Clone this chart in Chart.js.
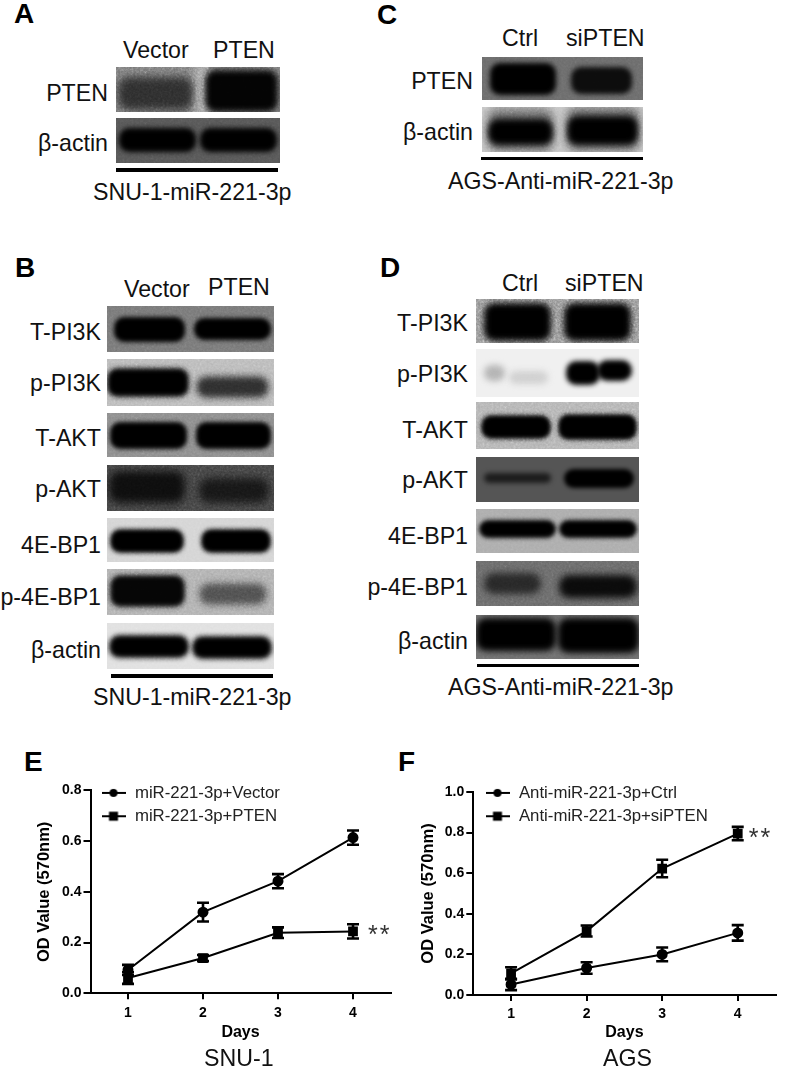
<!DOCTYPE html>
<html>
<head>
<meta charset="utf-8">
<title>PTEN blots and OD curves</title>
<script src="https://cdn.jsdelivr.net/npm/chart.js@4"></script>
<style>
    html, body { margin: 0; padding: 0; background: #fff; }
    #page { position: relative; width: 785px; height: 1069px; overflow: hidden; font-family: "Liberation Sans", Arial, sans-serif; color: #111; }
    .txt { position: absolute; white-space: nowrap; font-size: 23.2px; line-height: 26px; transform: translateY(-50%); }
    .panel { position: absolute; font-weight: bold; font-size: 28px; line-height: 32px; color: #000; transform: translateY(-50%); }
    .blot { position: absolute; overflow: hidden; }
    .band { position: absolute; border-radius: 10px; }
    .grain { position: absolute; left: 0; top: 0; width: 100%; height: 100%; mix-blend-mode: overlay;
        background-image: url("data:image/svg+xml,%3Csvg xmlns='http://www.w3.org/2000/svg' width='300' height='100'%3E%3Cfilter id='n'%3E%3CfeTurbulence type='fractalNoise' baseFrequency='0.45' numOctaves='2' seed='4'/%3E%3CfeColorMatrix type='saturate' values='0'/%3E%3C/filter%3E%3Crect width='300' height='100' filter='url(%23n)'/%3E%3C/svg%3E"); }
    .bar { position: absolute; background: #000; }
    canvas { position: absolute; }
</style>
</head>
<body>
<div id="page">
    <canvas id="graficoE" width="398" height="289" style="left:0;top:780px;width:398px;height:289px"></canvas>
    <canvas id="graficoF" width="383" height="289" style="left:400px;top:780px;width:383px;height:289px"></canvas>
</div>

<script>
// ── Chart data ──
const days = ['1', '2', '3', '4'];

const labelsE = ['miR-221-3p+Vector', 'miR-221-3p+PTEN'];
const vectorE = [0.092, 0.32, 0.442, 0.614];
const vectorErrE = [0.02, 0.037, 0.028, 0.028];
const ptenE = [0.06, 0.139, 0.239, 0.244];
const ptenErrE = [0.023, 0.012, 0.021, 0.028];
const ticksE = [0, 0.2, 0.4, 0.6, 0.8];

const labelsF = ['Anti-miR-221-3p+Ctrl', 'Anti-miR-221-3p+siPTEN'];
const ctrlF = [0.052, 0.133, 0.2, 0.306];
const ctrlErrF = [0.028, 0.028, 0.034, 0.038];
const siptenF = [0.107, 0.315, 0.623, 0.795];
const siptenErrF = [0.03, 0.027, 0.043, 0.033];
const ticksF = [0, 0.2, 0.4, 0.6, 0.8, 1.0];

// ── Blot panels: label, top, bottom, background, grain, bands ──
// a band is [left, right, top, bottom, colour, blur], as fractions of the panel
const blotA = [
    ['PTEN', 67, 112, '#757575', 0.8, [[0.48, 0.56, -0.1, 1.1, '#a8a8a8', 4], [0.01, 0.47, 0.22, 0.96, '#2a2a2a', 4], [0.54, 0.99, 0.06, 1.0, '#030303', 3]]],
    ['β-actin', 118, 163, '#565656', 0.3, [[0.02, 0.49, 0.22, 0.76, '#000', 2.5], [0.51, 0.98, 0.22, 0.76, '#000', 2.5]]]
];
const blotC = [
    ['PTEN', 57, 100, '#6c6c6c', 0.2, [[0.05, 0.46, 0.14, 0.88, '#000', 2.5], [0.55, 0.93, 0.24, 0.86, '#0c0c0c', 2.5]]],
    ['β-actin', 107, 152, '#c8c8c8', 0.4, [[0.03, 0.45, 0.02, 1.0, '#6a6a6a', 5], [0.52, 0.98, -0.02, 1.0, '#6a6a6a', 5], [0.04, 0.44, 0.26, 0.84, '#000', 3], [0.53, 0.97, 0.2, 0.84, '#000', 3]]]
];
const blotB = [
    ['T-PI3K', 306, 352, '#777', 0.3, [[0.04, 0.47, 0.24, 0.78, '#000', 2], [0.52, 0.98, 0.27, 0.75, '#000', 2]]],
    ['p-PI3K', 359, 406, '#b8b8b8', 0.5, [[0, 0.49, 0.2, 0.8, '#000', 2.5], [0.53, 0.97, 0.36, 0.82, '#2c2c2c', 3.5]]],
    ['T-AKT', 413, 457, '#8c8c8c', 0.3, [[0.02, 0.48, 0.2, 0.82, '#000', 2], [0.53, 0.98, 0.2, 0.82, '#000', 2]]],
    ['p-AKT', 465, 511, '#3e3e3e', 1, [[0.01, 0.47, 0.14, 0.82, '#0c0c0c', 4], [0.55, 0.97, 0.28, 0.82, '#141414', 4]]],
    ['4E-BP1', 518, 562, '#d4d4d4', 0.3, [[0.02, 0.46, 0.26, 0.8, '#000', 2], [0.56, 0.98, 0.26, 0.8, '#000', 2]]],
    ['p-4E-BP1', 569, 615, '#aeaeae', 0.5, [[0.02, 0.47, 0.14, 0.82, '#050505', 2.5], [0.55, 0.96, 0.3, 0.78, '#4c4c4c', 3.5]]],
    ['β-actin', 623, 669, '#e0e0e0', 0.3, [[0.01, 0.49, 0.26, 0.76, '#000', 2.5], [0.51, 0.99, 0.28, 0.78, '#000', 2.5]]]
];
const blotD = [
    ['T-PI3K', 299, 343, '#8a8a8a', 1, [[0.05, 0.46, 0.08, 0.96, '#000', 3], [0.54, 0.95, 0.08, 0.96, '#000', 3]]],
    ['p-PI3K', 349, 397, '#f0f0f0', 0.1, [[0.05, 0.18, 0.33, 0.66, '#b4b4b4', 3], [0.2, 0.44, 0.45, 0.72, '#d0d0d0', 3], [0.55, 0.76, 0.24, 0.76, '#000', 2.5], [0.74, 0.96, 0.22, 0.66, '#000', 2.5]]],
    ['T-AKT', 402, 449, '#b0b0b0', 0.6, [[0.03, 0.46, 0.28, 0.78, '#000', 2], [0.5, 0.99, 0.26, 0.8, '#000', 2]]],
    ['p-AKT', 457, 502, '#555', 0, [[0.05, 0.46, 0.36, 0.58, '#1c1c1c', 2.5], [0.54, 0.97, 0.26, 0.7, '#000', 2]]],
    ['4E-BP1', 509, 553, '#adadad', 0.2, [[0.02, 0.49, 0.25, 0.66, '#000', 2], [0.51, 0.99, 0.25, 0.66, '#000', 2]]],
    ['p-4E-BP1', 561, 606, '#686868', 0.4, [[0.05, 0.4, 0.26, 0.74, '#262626', 3.5], [0.51, 0.99, 0.3, 0.82, '#0a0a0a', 3.5]]],
    ['β-actin', 615, 659, '#707070', 0.2, [[0, 0.49, 0.06, 0.82, '#000', 3], [0.5, 1.0, 0.06, 0.86, '#000', 3]]]
];

const page = document.getElementById('page');

function texto(str, x, y, side) {
    const el = document.createElement('div');
    el.className = 'txt';
    el.textContent = str;
    el.style.top = y + 'px';
    if (side === 'right') el.style.right = (785 - x) + 'px';
    else el.style.left = x + 'px';
    page.appendChild(el);
}

function letra(str, x, y) {
    const el = document.createElement('div');
    el.className = 'panel';
    el.textContent = str;
    el.style.left = x + 'px';
    el.style.top = y + 'px';
    page.appendChild(el);
}

function barra(x0, x1, y0, y1) {
    const el = document.createElement('div');
    el.className = 'bar';
    el.style.cssText = `left:${x0}px;top:${y0}px;width:${x1 - x0}px;height:${y1 - y0}px`;
    page.appendChild(el);
}

function blots(list, x0, x1, labelX, labelY) {
    list.forEach((row, i) => {
        const [label, top, bottom, bg, grain, bands] = row;
        const box = document.createElement('div');
        box.className = 'blot';
        box.style.cssText = `left:${x0}px;top:${top}px;width:${x1 - x0}px;height:${bottom - top}px;background:${bg}`;
        bands.forEach(b => {
            const band = document.createElement('div');
            band.className = 'band';
            band.style.left = (b[0] * 100) + '%';
            band.style.width = ((b[1] - b[0]) * 100) + '%';
            band.style.top = (b[2] * 100) + '%';
            band.style.height = ((b[3] - b[2]) * 100) + '%';
            band.style.background = b[4];
            band.style.filter = `blur(${b[5]}px)`;
            box.appendChild(band);
        });
        const noise = document.createElement('div');
        noise.className = 'grain';
        noise.style.opacity = grain;
        box.appendChild(noise);
        page.appendChild(box);
        texto(label, labelX, labelY[i], 'right');
    });
}

// ── 1. Panels A and C ──
letra('A', 14, 14);
texto('Vector', 123, 50);
texto('PTEN', 213, 50);
blots(blotA, 116, 280, 108, [93, 143]);
barra(116, 278, 168, 172);
texto('SNU-1-miR-221-3p', 93, 192);

letra('C', 377, 15);
texto('Ctrl', 502, 38);
texto('siPTEN', 566, 38);
blots(blotC, 482, 643, 473, [81, 132]);
barra(481, 643, 157, 160);
texto('AGS-Anti-miR-221-3p', 448, 181);

// ── 2. Panels B and D ──
letra('B', 15, 268);
texto('Vector', 124, 289);
texto('PTEN', 208, 287);
blots(blotB, 107, 274, 101, [332, 383, 438, 489, 545, 597, 650]);
barra(111, 273, 674, 678);
texto('SNU-1-miR-221-3p', 93, 697);

letra('D', 380, 268);
texto('Ctrl', 502, 283);
texto('siPTEN', 565, 283);
blots(blotD, 476, 639, 468, [323, 374, 430, 480, 536, 587, 641]);
barra(477, 639, 664, 667);
texto('AGS-Anti-miR-221-3p', 448, 687);

letra('E', 24, 762);
letra('F', 398, 762);
texto('SNU-1', 204, 1058);
texto('AGS', 603, 1058);

// ── 3. Line charts E and F ──
function icono(style) {
    // legend key: short line with the marker in the middle
    const c = document.createElement('canvas');
    c.width = 24; c.height = 12;
    const ctx = c.getContext('2d');
    ctx.fillStyle = ctx.strokeStyle = '#000';
    ctx.lineWidth = 2;
    ctx.beginPath(); ctx.moveTo(0, 6); ctx.lineTo(24, 6); ctx.stroke();
    if (style === 'circle') { ctx.beginPath(); ctx.arc(12, 6, 4, 0, Math.PI * 2); ctx.fill(); }
    else ctx.fillRect(7.5, 1.5, 9, 9);
    return c;
}

// draws the error bars of every dataset through the y scale
const errorBars = {
    id: 'errorBars',
    afterDatasetsDraw(chart) {
        const { ctx, scales: { x, y } } = chart;
        ctx.save();
        ctx.strokeStyle = '#000';
        ctx.lineWidth = 2.6;
        chart.data.datasets.forEach(ds => {
            ds.data.forEach((v, i) => {
                const px = x.getPixelForValue(i);
                const top = y.getPixelForValue(v + ds.errors[i]);
                const bot = y.getPixelForValue(v - ds.errors[i]);
                ctx.beginPath();
                ctx.moveTo(px, top); ctx.lineTo(px, bot);
                ctx.moveTo(px - 6, top); ctx.lineTo(px + 6, top);
                ctx.moveTo(px - 6, bot); ctx.lineTo(px + 6, bot);
                ctx.stroke();
            });
        });
        ctx.restore();
    }
};

// significance stars next to the last point of one dataset
const stars = {
    id: 'stars',
    afterDraw(chart, args, opts) {
        const { ctx, scales: { x, y } } = chart;
        const ds = chart.data.datasets[opts.dataset];
        const last = ds.data.length - 1;
        ctx.save();
        ctx.fillStyle = '#333';
        ctx.font = '25px "Liberation Sans"';
        ctx.letterSpacing = '2px';
        ctx.textBaseline = 'middle';
        ctx.fillText('**', x.getPixelForValue(last) + opts.gap, y.getPixelForValue(ds.data[last]) + 5);
        ctx.restore();
    }
};

// moves the legend from the chart area to its place beside the y axis top
const moveLegend = {
    id: 'moveLegend',
    afterLayout(chart, args, opts) {
        const l = chart.legend;
        l.left = opts.left;
        l.top = opts.top;
        l.right = l.left + l.width;
        l.bottom = l.top + l.height;
    }
};

function grafico(id, cfg) {
    const ds = (label, data, errors, style) => ({
        label, data, errors,
        borderColor: '#000', backgroundColor: '#000', borderWidth: 2,
        pointStyle: style,
        pointRadius: style === 'circle' ? 4.5 : 5.5,
        tension: 0
    });
    return new Chart(document.getElementById(id).getContext('2d'), {
        type: 'line',
        data: {
            labels: days,
            datasets: [
                ds(cfg.labels[0], cfg.d1, cfg.e1, 'circle'),
                ds(cfg.labels[1], cfg.d2, cfg.e2, 'rect')
            ]
        },
        plugins: [errorBars, stars, moveLegend],
        options: {
            responsive: false,
            animation: false,
            layout: { padding: { top: cfg.top, bottom: 0, left: 0, right: 0 } },
            plugins: {
                tooltip: { enabled: false },
                title: { display: false },
                stars: { dataset: 1, gap: cfg.starGap },
                moveLegend: { left: cfg.legendLeft, top: -2 },
                legend: {
                    position: 'chartArea',
                    align: 'start',
                    labels: {
                        color: '#222',
                        font: { family: '"Liberation Sans"', size: 16.8 },
                        usePointStyle: true,
                        pointStyleWidth: 26,
                        padding: 6.5,
                        generateLabels: c => c.data.datasets.map((d, i) => ({
                            text: d.label,
                            datasetIndex: i,
                            pointStyle: icono(d.pointStyle),
                            fontColor: '#222',
                            lineWidth: 0
                        }))
                    }
                }
            },
            scales: {
                x: {
                    type: 'category',
                    offset: true,
                    afterFit: s => { s.height = cfg.xHeight; s.paddingLeft = 0; s.paddingRight = 0; },
                    border: { color: '#000', width: 2 },
                    grid: { offset: false, drawOnChartArea: false, color: '#000', lineWidth: 2, tickLength: 6 },
                    ticks: { color: '#000', maxRotation: 0, padding: 5, font: { family: '"Liberation Sans"', size: 14, weight: 'bold' } },
                    title: { display: true, text: 'Days', color: '#000', padding: { top: 0, bottom: 26.5 }, font: { family: '"Liberation Sans"', size: 16, weight: 'bold' } }
                },
                y: {
                    min: 0,
                    max: cfg.yMax,
                    afterFit: s => { s.width = cfg.leftW; },
                    afterBuildTicks: s => { s.ticks = cfg.yTicks.map(value => ({ value })); },
                    border: { color: '#000', width: 2 },
                    grid: { drawOnChartArea: false, color: '#000', lineWidth: 2, tickLength: 7 },
                    ticks: { color: '#000', padding: 2, callback: v => v.toFixed(1), font: { family: '"Liberation Sans"', size: 14, weight: 'bold' } },
                    title: { display: true, text: 'OD Value (570nm)', color: '#000', padding: { top: cfg.titlePad, bottom: 0 }, font: { family: '"Liberation Sans"', size: 16.5, weight: 'bold' } }
                }
            }
        }
    });
}

grafico('graficoE', {
    d1: vectorE, e1: vectorErrE, d2: ptenE, e2: ptenErrE, labels: labelsE,
    yMax: 0.8, yTicks: ticksE,
    leftW: 90.5, top: 10, xHeight: 75.7, titlePad: 35, legendLeft: 94, starGap: 15
});
grafico('graficoF', {
    d1: ctrlF, e1: ctrlErrF, d2: siptenF, e2: siptenErrF, labels: labelsF,
    yMax: 1.0, yTicks: ticksF,
    leftW: 73.3, top: 12, xHeight: 74, titlePad: 19, legendLeft: 78, starGap: 11
});
</script>
</body>
</html>
